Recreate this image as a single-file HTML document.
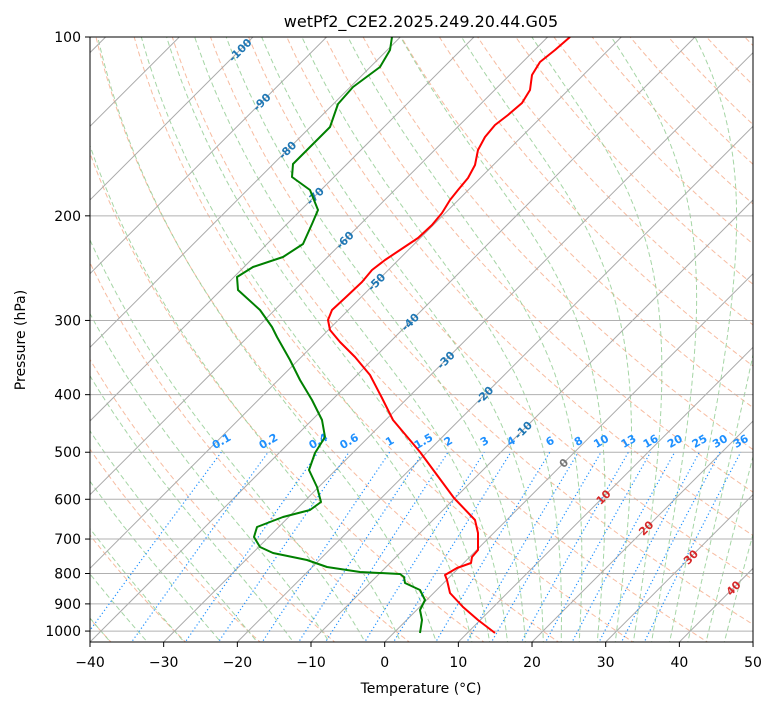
<!DOCTYPE html>
<html><head><meta charset="utf-8"><style>
body{margin:0;background:#fff;}
svg text{font-family:"DejaVu Sans","Liberation Sans",sans-serif;}
</style></head><body>
<svg id="s" width="775" height="708" xmlns="http://www.w3.org/2000/svg">
<defs><clipPath id="c"><rect x="90" y="37" width="663" height="605"/></clipPath></defs>
<rect width="775" height="708" fill="#fff"/>
<g id="plot" clip-path="url(#c)"></g>
<g id="ax"></g>
</svg>
<script>
const NS="http://www.w3.org/2000/svg";
const plot=document.getElementById('plot'),ax=document.getElementById('ax');
const K=7.367,B=642;
function Y(p){return 37+258*Math.log(p/100);}
function X(T,p){return 90+(T+40)*K+(B-Y(p));}
function el(par,tag,a,txt){const e=document.createElementNS(NS,tag);for(const k in a)e.setAttribute(k,a[k]);if(txt!==undefined)e.textContent=txt;par.appendChild(e);return e;}
function pl(par,pts,a){a.points=pts.map(q=>q[0].toFixed(1)+','+q[1].toFixed(1)).join(' ');a.fill='none';return el(par,'polyline',a);}
const ps=[];for(let p=1050;p>=95;p-=5)ps.push(p);
for(let t=-40;t<=200;t+=10){const th=t+273.15;pl(plot,ps.map(p=>[X(th*Math.pow(p/1000,0.2857)-273.15,p),Y(p)]),{stroke:'#f4a582','stroke-width':1,'stroke-dasharray':'5,3',opacity:0.75});}
function es(T){return 6.112*Math.exp(17.67*T/(T+243.5));}
function dTdp(T,p){const Tk=T+273.15,e=es(T),rs=0.622*e/(p-e),Lv=2.501e6,Rd=287.04,Cp=1005.7;return (1/p)*(Rd*Tk+Lv*rs)/(Cp+Lv*Lv*rs*0.622/(Rd*Tk*Tk));}
const m0=[];for(let t=-50;t<=10;t+=5)m0.push(t);for(let t=12.5;t<=45;t+=2.5)m0.push(t);
m0.forEach(t0=>{let pts=[],T=t0;for(let p=1000;p>=95;p-=2){pts.push([X(T,p),Y(p)]);T-=dTdp(T,p)*2;}
T=t0;let d=[];for(let p=1000;p<=1060;p+=2){d.push([X(T,p),Y(p)]);T+=dTdp(T,p)*2;}
pl(plot,d.reverse().concat(pts),{stroke:'#8fcb8f','stroke-width':1,'stroke-dasharray':'5,3',opacity:0.8});});
for(let t=-200;t<=60;t+=10){el(plot,'line',{x1:X(t,1100),y1:Y(1100),x2:X(t,90),y2:Y(90),stroke:'#aaa','stroke-width':1});}
for(let p=100;p<=1000;p+=100)el(plot,'line',{x1:90,x2:753,y1:Y(p),y2:Y(p),stroke:'#b0b0b0','stroke-width':1});
const ws=[0.1,0.2,0.4,0.6,1,1.5,2,3,4,6,8,10,13,16,20,25,30,36];
function td(w,p){const e=w*p/(622+w),l=Math.log(e/6.112);return 243.5*l/(17.67-l);}
ws.forEach(w=>{pl(plot,[1050,900,750,600,500].map(p=>[X(td(w,p),p),Y(p)]),{stroke:'#1e90ff','stroke-width':1.2,'stroke-dasharray':'1.2,2.5'});
const x=X(td(w,500),500);el(plot,'text',{x:x,y:445,'font-size':11,'font-weight':'bold',fill:'#1e90ff','text-anchor':'middle',transform:`rotate(-30 ${x} 441)`},String(w));});
const lab=[[-100,50],[-90,102],[-80,150],[-70,196],[-60,240],[-50,282],[-40,322],[-30,360],[-20,395],[-10,430],[0,463],[10,497],[20,528],[30,557],[40,588]];
lab.forEach(([t,y])=>{const x=90+(t+40)*K+(B-y);const c=t<0?'#1f77b4':(t==0?'#777':'#d62728');
el(plot,'text',{x:x,y:y+4,'font-size':11,'font-weight':'bold',fill:c,'text-anchor':'middle',transform:`rotate(-45 ${x} ${y})`},String(t));});
const red=[[570,37],[555,50],[540,62],[532,75],[530,90],[522,103],[508,115],[495,125],[485,137],[478,150],[475,165],[468,178],[458,190],[450,200],[442,213],[432,225],[418,238],[400,250],[385,260],[372,270],[362,282],[345,298],[332,310],[328,320],[330,330],[340,342],[355,357],[370,375],[382,398],[393,420],[420,452],[454,498],[475,520],[478,533],[478,550],[472,557],[471,563],[457,568],[445,575],[447,580],[450,593],[463,607],[478,620],[495,633]];
pl(plot,red,{stroke:'#ff0000','stroke-width':2,'stroke-linejoin':'round'});
const grn=[[392,37],[390,50],[380,67],[353,87],[338,104],[330,127],[310,147],[293,164],[292,177],[310,190],[318,210],[312,224],[303,244],[283,257],[253,267],[237,277],[238,290],[260,310],[272,327],[277,337],[290,360],[300,380],[312,400],[322,420],[325,437],[315,453],[309,470],[317,487],[321,502],[310,510],[283,517],[257,527],[254,537],[260,547],[273,553],[307,560],[327,567],[360,572],[400,574],[404,577],[405,583],[420,590],[425,600],[420,610],[422,620],[420,633]];
pl(plot,grn,{stroke:'#008000','stroke-width':2,'stroke-linejoin':'round'});
el(ax,'rect',{x:90,y:37,width:663,height:605,fill:'none',stroke:'#000','stroke-width':1});
for(let t=-40;t<=50;t+=10){const x=90+(t+40)*K;el(ax,'line',{x1:x,x2:x,y1:642,y2:647,stroke:'#000'});el(ax,'text',{x:x,y:667,'font-size':14,'text-anchor':'middle'},t<0?'\u2212'+(-t):String(t));}
for(let p=100;p<=1000;p+=100){const y=Y(p);el(ax,'line',{x1:85,x2:90,y1:y,y2:y,stroke:'#000'});el(ax,'text',{x:81,y:y+5,'font-size':14,'text-anchor':'end'},String(p));}
el(ax,'text',{x:421,y:693,'font-size':14,'text-anchor':'middle'},'Temperature (°C)');
el(ax,'text',{x:25,y:340,'font-size':14,'text-anchor':'middle',transform:'rotate(-90 25 340)'},'Pressure (hPa)');
el(ax,'text',{x:421,y:27,'font-size':16,'text-anchor':'middle'},'wetPf2_C2E2.2025.249.20.44.G05');
</script>
</body></html>
